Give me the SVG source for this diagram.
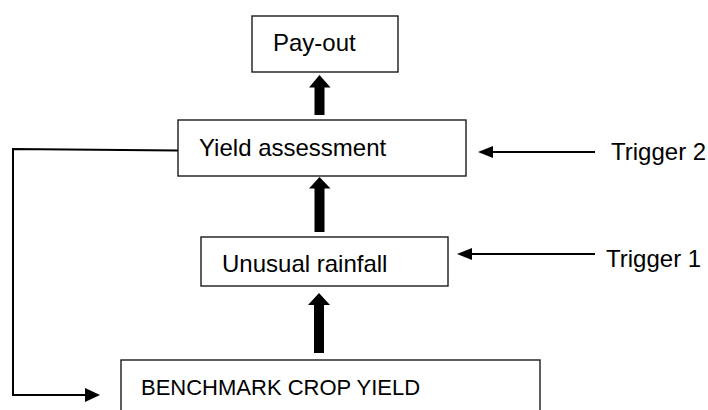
<svg xmlns="http://www.w3.org/2000/svg" width="708" height="410" viewBox="0 0 708 410">
  <style>
    .box { fill: #ffffff; stroke: #1a1a1a; stroke-width: 1.4; }
    .lbl { font-family: "Liberation Sans", Arial, sans-serif; font-size: 24px; fill: #000000; }
    .line { fill: none; stroke: #000000; stroke-width: 2; }
    .head { fill: #000000; stroke: none; }
  </style>
  <rect x="0" y="0" width="708" height="410" fill="#ffffff"/>
  <g id="connectors">
    <polygon class="head" points="319.5,75 309,87.5 314.5,87.5 314.5,115 324.5,115 324.5,87.5 330.5,87.5"/>
    <polygon class="head" points="319.5,177 309,188.5 314.5,188.5 314.5,232 324.5,232 324.5,188.5 330.5,188.5"/>
    <polygon class="head" points="319,293 308,305 314,305 314,353 324,353 324,305 330,305"/>
    <line class="line" x1="595" y1="152" x2="490" y2="152"/>
    <polygon class="head" points="478,152 493,146 493,158"/>
    <line class="line" x1="595" y1="254" x2="469" y2="254"/>
    <polygon class="head" points="457,254 472,248 472,260"/>
    <polyline class="line" points="178,150.5 13,149 13,395 87,395"/>
    <polygon class="head" points="100,395 85,388 85,402"/>
  </g>
  <g id="node-payout">
    <rect class="box" x="252" y="16" width="146" height="56"/>
    <text class="lbl" x="273" y="51">Pay-out</text>
  </g>
  <g id="node-yield">
    <rect class="box" x="178" y="120" width="288" height="56"/>
    <text class="lbl" x="199" y="156">Yield assessment</text>
  </g>
  <g id="node-rainfall">
    <rect class="box" x="201" y="237" width="247" height="49"/>
    <text class="lbl" x="222" y="272">Unusual rainfall</text>
  </g>
  <g id="node-benchmark">
    <rect class="box" x="121" y="360" width="419" height="60"/>
    <text class="lbl" x="141" y="395" style="font-size:22px">BENCHMARK CROP YIELD</text>
  </g>
  <g id="trigger2">
    <text class="lbl" x="611" y="160">Trigger 2</text>
  </g>
  <g id="trigger1">
    <text class="lbl" x="606" y="267">Trigger 1</text>
  </g>
</svg>
